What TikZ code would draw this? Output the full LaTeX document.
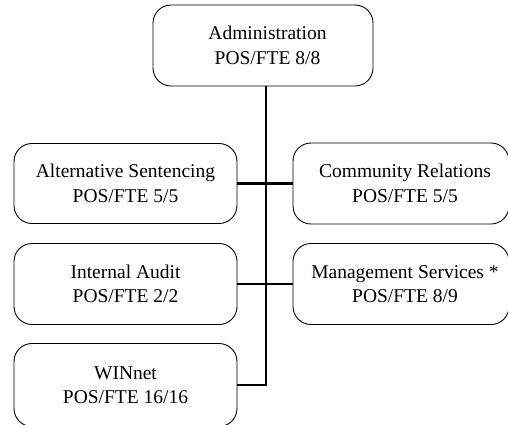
\documentclass[tikz,border=0pt]{standalone}
\usepackage{fontspec}
\setmainfont{Liberation Serif}
\begin{document}
\begin{tikzpicture}[x=1pt,y=-1pt,
  unit/.style={draw=black, line width=0.9pt, rectangle, rounded corners=18pt,
    inner sep=0pt},
  caption/.style={align=center, inner sep=0pt, font=\fontsize{19.5}{24.5}\selectfont},
  conn/.style={draw=black, line width=2.4pt}]
\useasboundingbox (0,0) rectangle (508,424);

% organisation units: rounded box with its two-line caption
\node[unit, minimum width=220pt, minimum height=81pt,
  label={[caption, xshift=4.5pt]center:Administration\\POS/FTE 8/8}] (admin) at (263,45.5) {};
\node[unit, minimum width=223pt, minimum height=80pt,
  label={[caption]center:Alternative Sentencing\\POS/FTE 5/5}] (alt) at (125.5,183.5) {};
\node[unit, minimum width=216pt, minimum height=81pt,
  label={[caption, xshift=4pt]center:Community Relations\\POS/FTE 5/5}] (comm) at (401,183.5) {};
\node[unit, minimum width=223pt, minimum height=81pt,
  label={[caption]center:Internal Audit\\POS/FTE 2/2}] (audit) at (125.5,284) {};
\node[unit, minimum width=216pt, minimum height=81pt,
  label={[caption, xshift=4pt]center:Management Services *\\POS/FTE 8/9}] (mgmt) at (401,284) {};
\node[unit, minimum width=223pt, minimum height=83pt,
  label={[caption]center:WINnet\\POS/FTE 16/16}] (winnet) at (125.5,385) {};

% reporting lines
\coordinate (spinetop) at (266,86);
\draw[conn] (alt.east) -- (comm.west);
\draw[conn] (audit.east) -- (mgmt.west);
\draw[conn] (spinetop) -- (spinetop |- winnet.east) -- (winnet.east);
\end{tikzpicture}
\end{document}
